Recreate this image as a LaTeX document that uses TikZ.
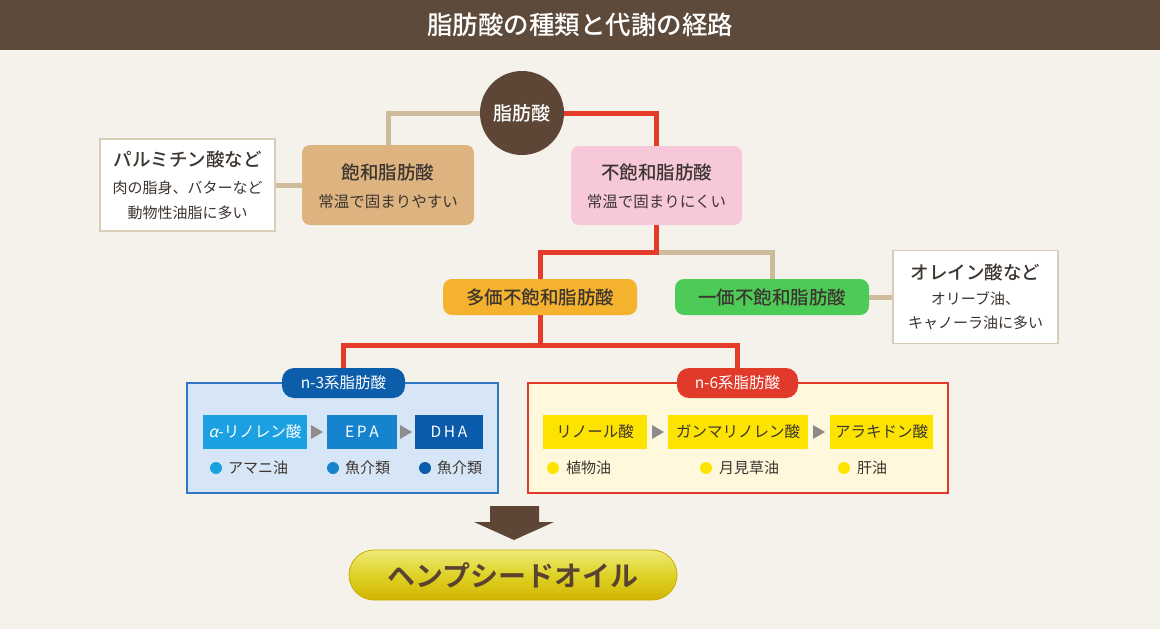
\documentclass[tikz,border=0pt]{standalone}
\usepackage{fontspec}
\setmainfont{Noto Sans CJK JP}[BoldFont={Noto Sans CJK JP Medium}]
\newfontfamily\jpslant{Noto Sans CJK JP}[FakeSlant=0.2]
\newfontfamily\jpheavy{Noto Sans CJK JP Bold}
\usetikzlibrary{shapes.geometric}
\definecolor{cbg}{HTML}{F5F2EC}
\definecolor{ctitle}{HTML}{5E4A3B}
\definecolor{cbrown}{HTML}{5E4636}
\definecolor{ctan}{HTML}{CDBB9C}
\definecolor{cred}{HTML}{E43B2B}
\definecolor{csat}{HTML}{DDB47F}
\definecolor{cunsat}{HTML}{F7C8DA}
\definecolor{cpoly}{HTML}{F4B22E}
\definecolor{cmono}{HTML}{4DCB57}
\definecolor{cdark}{HTML}{3C3530}
\definecolor{cpalm}{HTML}{D9CDB8}
\definecolor{cnthreefill}{HTML}{D6E6F6}
\definecolor{cnthreeline}{HTML}{2E78C4}
\definecolor{cnthreelab}{HTML}{0C5DAA}
\definecolor{calpha}{HTML}{1BA0E2}
\definecolor{cepa}{HTML}{1683CE}
\definecolor{cdha}{HTML}{0B5BAC}
\definecolor{cnsixfill}{HTML}{FFF8DC}
\definecolor{cnsixline}{HTML}{E23A2A}
\definecolor{cyel}{HTML}{FDE400}
\definecolor{cgray}{HTML}{8C8C8C}
\definecolor{cbtntop}{HTML}{EEEA78}
\definecolor{cbtnmid}{HTML}{DED226}
\definecolor{cbtnbot}{HTML}{D2B400}
\definecolor{cbtnline}{HTML}{C9AC00}
\definecolor{cbtntext}{HTML}{5A4232}
\tikzset{
  fsz/.style={font=\fontsize{#1}{#1}\selectfont},
  bfsz/.style={font=\fontsize{#1}{#1}\selectfont\bfseries},
  txt/.style={inner sep=0pt, text=cdark},
  wtxt/.style={inner sep=0pt, text=white},
  redline/.style={line width=5pt, draw=cred},
  tanline/.style={line width=5pt, draw=ctan},
  catbox/.style={rounded corners=8pt, inner sep=0pt},
  infobox/.style={fill=white, draw=cpalm, line width=1.5pt, inner sep=0pt},
  acidbox/.style={inner sep=0pt, minimum height=34pt, fsz=15.5},
  dotmark/.style={circle, inner sep=0pt, minimum size=12pt},
  tri/.style={fill=cgray},
}
\begin{document}
\begin{tikzpicture}[x=1pt,y=-1pt]
\useasboundingbox (0,0) rectangle (1160,629);
\fill[cbg] (0,0) rectangle (1160,629);
\fill[ctitle] (0,0) rectangle (1160,50);
\node[wtxt, bfsz=25.5] (title) at (580,25) {脂肪酸の種類と代謝の経路};

% category boxes
\node[catbox, fill=csat, minimum width=172pt, minimum height=80pt] (sat) at (388,185) {};
\node[txt, bfsz=18.5] (satT) at (388,172) {飽和脂肪酸};
\node[txt, fsz=15.5] (satS) at (388,202) {常温で固まりやすい};

\node[catbox, fill=cunsat, minimum width=171pt, minimum height=79pt] (unsat) at (656.5,185.5) {};
\node[txt, bfsz=18.5] (unsatT) at (656.5,172) {不飽和脂肪酸};
\node[txt, fsz=15.5] (unsatS) at (656.5,202) {常温で固まりにくい};

\node[infobox, minimum width=175pt, minimum height=92pt] (palm) at (187.5,185) {};
\node[txt, bfsz=18.5] (palmT) at (187.5,159) {パルミチン酸など};
\node[txt, fsz=15] (palmA) at (187.5,188) {肉の脂身、バターなど};
\node[txt, fsz=15] (palmB) at (187.5,213) {動物性油脂に多い};

\node[catbox, rounded corners=9pt, fill=cpoly, minimum width=194pt, minimum height=36pt, txt, bfsz=18.5] (poly) at (540,297) {多価不飽和脂肪酸};
\node[catbox, rounded corners=9pt, fill=cmono, minimum width=194pt, minimum height=36pt, txt, bfsz=18.5] (mono) at (772,297) {一価不飽和脂肪酸};

\node[infobox, minimum width=165pt, minimum height=93pt] (olein) at (975.5,297) {};
\node[txt, bfsz=18.5] (oleinT) at (975.5,272) {オレイン酸など};
\node[txt, fsz=15] (oleinA) at (975.5,299) {オリーブ油、};
\node[txt, fsz=15] (oleinB) at (975.5,323) {キャノーラ油に多い};

% root circle
\node[circle, fill=cbrown, minimum size=84pt, inner sep=0pt, text=white, bfsz=19] (fa) at (522,113) {脂肪酸};

% connectors
\coordinate (j1) at (656.5,252);
\coordinate (j2) at (540,345);
\draw[tanline] (fa.west) -| (sat.north);
\draw[tanline] (sat.west) -- (palm.east);
\draw[tanline] (j1) -| (mono.north);
\draw[tanline] (mono.east) -- (olein.west);
\draw[redline] (fa.east) -| (unsat.north);
\draw[redline] (unsat.south) -- (j1) -| (poly.north);

% n-3 group
\node[fill=cnthreefill, draw=cnthreeline, line width=1.5pt, minimum width=311pt, minimum height=110pt, inner sep=0pt] (nthree) at (342.5,438) {};
% n-6 group
\node[fill=cnsixfill, draw=cnsixline, line width=1.5pt, minimum width=420pt, minimum height=110pt, inner sep=0pt] (nsix) at (738,438) {};

\node[rounded corners=12pt, fill=cnthreelab, minimum width=123pt, minimum height=30pt, wtxt, fsz=15.5] (nthreelab) at (343.5,383) {n-3系脂肪酸};
\node[rounded corners=12pt, fill=cnsixline, minimum width=121pt, minimum height=30pt, wtxt, fsz=15.5] (nsixlab) at (737.5,383) {n-6系脂肪酸};
\draw[redline] (poly.south) -- (j2) -| (nthreelab.north);
\draw[redline] (j2) -| (nsixlab.north);

\node[acidbox, fill=calpha, minimum width=104pt, text=white] (alpha) at (255,432) {{\jpslant α}-リノレン酸};
\node[acidbox, fill=cepa, minimum width=70pt, text=white] (epa) at (362,432) {E\,P\,A};
\node[acidbox, fill=cdha, minimum width=68pt, text=white] (dha) at (449,432) {D\,H\,A};
\fill[tri] (311,425) -- (323,432) -- (311,439) -- cycle;
\fill[tri] (400,425) -- (412,432) -- (400,439) -- cycle;

\node[dotmark, fill=calpha] (d1) at (216,468) {};
\node[txt, fsz=15, anchor=west] (d1t) at (228,468) {アマニ油};
\node[dotmark, fill=cepa] (d2) at (333,468) {};
\node[txt, fsz=15, anchor=west] (d2t) at (345,468) {魚介類};
\node[dotmark, fill=cdha] (d3) at (425,468) {};
\node[txt, fsz=15, anchor=west] (d3t) at (437,468) {魚介類};

\node[acidbox, fill=cyel, minimum width=104pt, text=cdark] (lin) at (595,432) {リノール酸};
\node[acidbox, fill=cyel, minimum width=140pt, text=cdark] (gla) at (738,432) {ガンマリノレン酸};
\node[acidbox, fill=cyel, minimum width=103pt, text=cdark] (ara) at (881.5,432) {アラキドン酸};
\fill[tri] (652,425) -- (664,432) -- (652,439) -- cycle;
\fill[tri] (813,425) -- (825,432) -- (813,439) -- cycle;

\node[dotmark, fill=cyel] (e1) at (553,468) {};
\node[txt, fsz=15, anchor=west] (e1t) at (566,468) {植物油};
\node[dotmark, fill=cyel] (e2) at (706,468) {};
\node[txt, fsz=15, anchor=west] (e2t) at (719,468) {月見草油};
\node[dotmark, fill=cyel] (e3) at (844,468) {};
\node[txt, fsz=15, anchor=west] (e3t) at (857,468) {肝油};

% big arrow
\fill[cbrown] (490,506) -- (539,506) -- (539,522) -- (554,522) -- (514,540) -- (474,522) -- (490,522) -- cycle;

% result button
\node[rounded corners=25pt, top color=cbtntop, bottom color=cbtnbot, middle color=cbtnmid, draw=cbtnline, line width=0.8pt, minimum width=328pt, minimum height=50pt, inner sep=0pt, text=cbtntext, font=\fontsize{28}{28}\selectfont\jpheavy] (hemp) at (513,575) {ヘンプシードオイル};
\end{tikzpicture}
\end{document}
